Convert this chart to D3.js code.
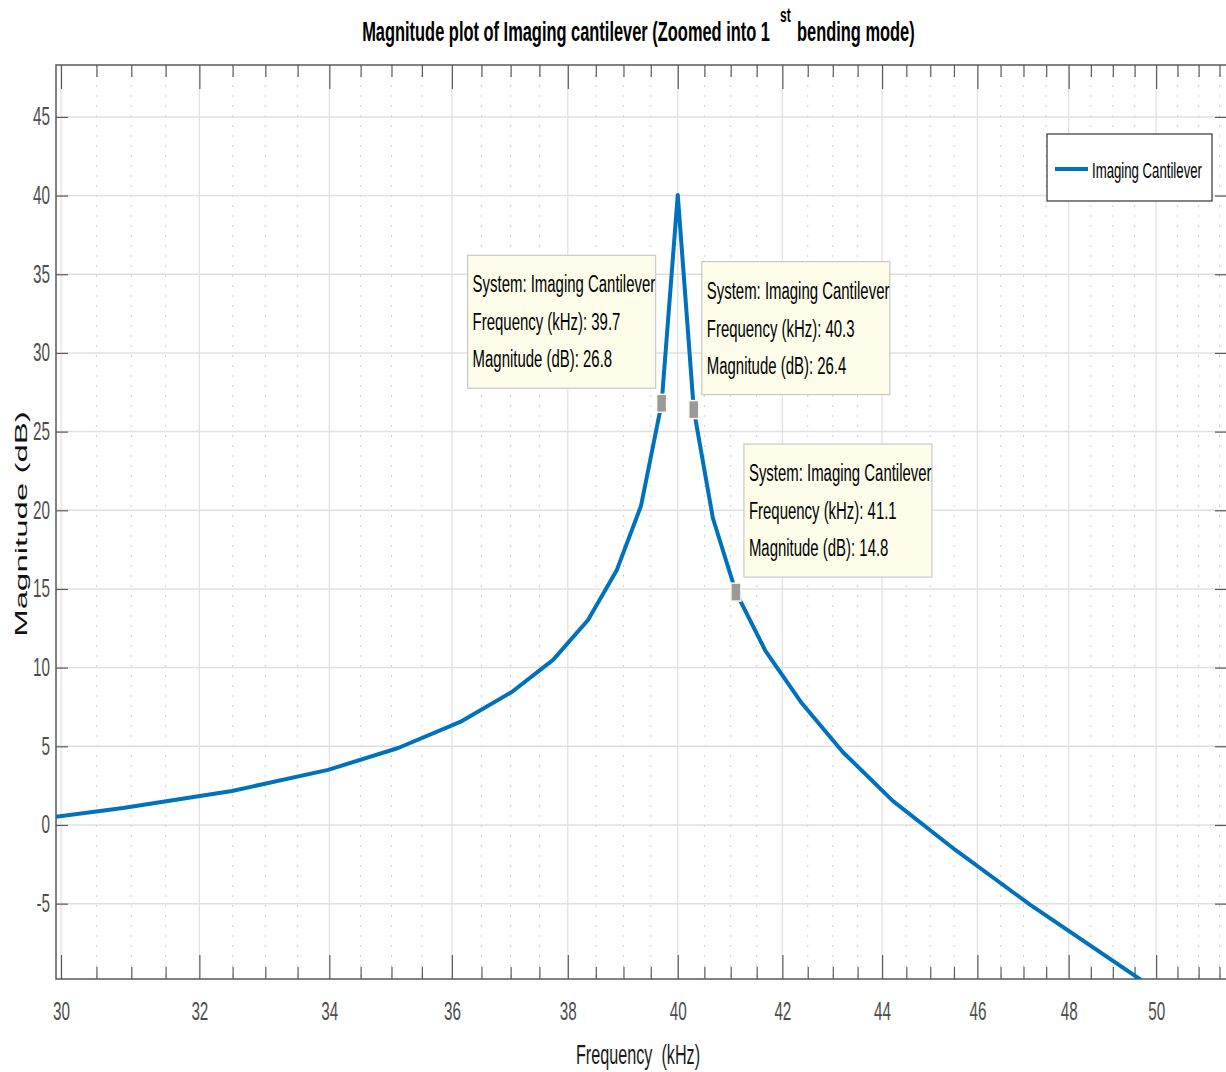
<!DOCTYPE html>
<html>
<head>
<meta charset="utf-8">
<script src="https://cdn.jsdelivr.net/npm/d3@7"></script>
<style>
  body { margin: 0; background: #ffffff; }
  svg { display: block; font-family: "Liberation Sans", Arial, Helvetica, sans-serif; }
</style>
</head>
<body>
<script>
// ---------- data ----------
const freqKHz = [29.9, 30.88, 32.49, 33.98, 35.11, 36.14, 37.02, 37.74, 38.36, 38.88, 39.32, 39.7, 40.0, 40.3, 40.66, 41.1, 41.67, 42.38, 43.2, 44.22, 45.53, 47.15, 49.65];
const magDB   = [0.5, 1.08, 2.16, 3.5, 4.89, 6.55, 8.45, 10.49, 13.03, 16.21, 20.28, 26.8, 40.04, 26.4, 19.51, 14.8, 11.06, 7.75, 4.64, 1.53, -1.59, -5.08, -9.85];

const tipFreq = [39.7, 40.3, 41.1];
const tipMag  = [26.8, 26.4, 14.8];
const tipSide = ["left", "right", "right"];

const xMajorTicks = [30, 32, 34, 36, 38, 40, 42, 44, 46, 48, 50];
const xMinorTicks = [30.5, 31, 31.5, 32.5, 33, 33.5, 34.5, 35, 35.5, 36.5, 37, 37.5, 38.5, 39, 39.5, 40.5, 41, 41.5, 42.5, 43, 43.5, 44.5, 45, 45.5, 46.5, 47, 47.5, 48.5, 49, 49.5, 50.5, 51, 51.5];
const yTicks = [-5, 0, 5, 10, 15, 20, 25, 30, 35, 40, 45];

const seriesName = "Imaging Cantilever";
const titleMain = "Magnitude plot of Imaging cantilever (Zoomed into 1";
const titleSup = "st";
const titleEnd = "bending mode)";
const xLabel = "Frequency  (kHz)";
const yLabel = "Magnitude (dB)";

// ---------- layout ----------
const W = 1226, H = 1072;
const L = 56, R = 1227, T = 65, B = 979;
const blue = "#0072BD";
const axisCol = "#5a5a5a";
const tickTextCol = "#4d4d4d";

const svg = d3.select("body").append("svg").attr("width", W).attr("height", H);

const x = d3.scaleLog().domain([29.93, 51.68]).range([L, R]);
const y = d3.scaleLinear().domain([-9.79, 48.3]).range([B, T]);

// clip
svg.append("defs").append("clipPath").attr("id", "plotclip")
  .append("rect").attr("x", L).attr("y", T).attr("width", R - L).attr("height", B - T);

// ---------- grid ----------
const grid = svg.append("g");
grid.selectAll(".gmin").data(xMinorTicks.filter(d => x(d) < R)).enter().append("line")
  .attr("x1", d => x(d)).attr("x2", d => x(d)).attr("y1", T).attr("y2", B)
  .attr("stroke", "#cfcfcf").attr("stroke-width", 1).attr("stroke-dasharray", "2,8");
grid.selectAll(".gmaj").data(xMajorTicks).enter().append("line")
  .attr("x1", d => x(d)).attr("x2", d => x(d)).attr("y1", T).attr("y2", B)
  .attr("stroke", "#e0e0e0").attr("stroke-width", 1.2);
grid.selectAll(".gy").data(yTicks).enter().append("line")
  .attr("x1", L).attr("x2", R).attr("y1", d => y(d)).attr("y2", d => y(d))
  .attr("stroke", "#e0e0e0").attr("stroke-width", 1.5);

// ---------- axes ----------
function styleAxis(g) {
  g.select(".domain").remove();
  g.selectAll("line").attr("stroke", axisCol).attr("stroke-width", 1.2);
}
const SXT = 0.61;

// bottom major
const gB = svg.append("g").attr("transform", `translate(0,${B})`)
  .call(d3.axisBottom(x).tickValues(xMajorTicks).tickSize(-24).tickPadding(23).tickFormat(d => String(d)));
styleAxis(gB);
gB.selectAll("text").attr("font-size", 25).attr("fill", tickTextCol)
  .attr("font-family", "Liberation Sans, Arial, sans-serif")
  .attr("transform", `scale(${SXT},1)`);
// bottom minor
const gBm = svg.append("g").attr("transform", `translate(0,${B})`)
  .call(d3.axisBottom(x).tickValues(xMinorTicks.filter(d => x(d) < R)).tickSize(-12).tickFormat(""));
styleAxis(gBm);
// top major/minor
const gT = svg.append("g").attr("transform", `translate(0,${T})`)
  .call(d3.axisTop(x).tickValues(xMajorTicks).tickSize(-24).tickFormat(""));
styleAxis(gT);
const gTm = svg.append("g").attr("transform", `translate(0,${T})`)
  .call(d3.axisTop(x).tickValues(xMinorTicks.filter(d => x(d) < R)).tickSize(-12).tickFormat(""));
styleAxis(gTm);
// left
const gL = svg.append("g").attr("transform", `translate(${L},0)`)
  .call(d3.axisLeft(y).tickValues(yTicks).tickSize(-12).tickPadding(6).tickFormat(d => String(d)));
styleAxis(gL);
gL.selectAll("text").attr("font-size", 25).attr("fill", tickTextCol)
  .attr("font-family", "Liberation Sans, Arial, sans-serif")
  .attr("x", -6 / SXT)
  .attr("transform", `scale(${SXT},1)`);
// right
const gR = svg.append("g").attr("transform", `translate(${R},0)`)
  .call(d3.axisRight(y).tickValues(yTicks).tickSize(-12).tickFormat(""));
styleAxis(gR);

// box
svg.append("rect").attr("x", L).attr("y", T).attr("width", R - L).attr("height", B - T)
  .attr("fill", "none").attr("stroke", axisCol).attr("stroke-width", 1.5);

// ---------- line ----------
const pts = freqKHz.map((f, i) => [f, magDB[i]]);
svg.append("path").datum(pts)
  .attr("clip-path", "url(#plotclip)")
  .attr("d", d3.line().x(d => x(d[0])).y(d => y(d[1])))
  .attr("fill", "none").attr("stroke", blue).attr("stroke-width", 4)
  .attr("stroke-linejoin", "round");

// ---------- helper for condensed text ----------
function ctext(parent, px, py, str, size, sx, opts = {}) {
  return parent.append("text")
    .attr("transform", `translate(${px},${py}) scale(${sx},1)`)
    .attr("font-size", size)
    .attr("font-weight", opts.weight || "normal")
    .attr("text-anchor", opts.anchor || "start")
    .attr("fill", opts.fill || "#000")
    .style("white-space", "pre")
    .text(str);
}

// ---------- data tips ----------
const tipW = 188, tipH = 133;
const tips = svg.append("g");
tipFreq.forEach((f, i) => {
  const px = x(f), py = y(tipMag[i]);
  const bx = tipSide[i] === "left" ? px - 6 - tipW : px + 8;
  const by = py - 15 - tipH;
  tips.append("rect").attr("x", bx).attr("y", by).attr("width", tipW).attr("height", tipH)
    .attr("fill", "#fdfdea").attr("stroke", "#c9c9c9").attr("stroke-width", 1.2);
  const lines = [
    "System: " + seriesName,
    "Frequency (kHz): " + f.toFixed(1),
    "Magnitude (dB): " + tipMag[i].toFixed(1)
  ];
  const offs = [37, 75, 112];
  lines.forEach((s, j) => ctext(tips, bx + 5, by + offs[j], s, 24.5, 0.61));
  tips.append("rect").attr("x", px - 5).attr("y", py - 9).attr("width", 10).attr("height", 18)
    .attr("fill", "#9a9a9a").attr("stroke", "#fbfbe6").attr("stroke-width", 1.5);
});

// ---------- legend ----------
const lg = svg.append("g");
lg.append("rect").attr("x", 1047).attr("y", 134).attr("width", 165).attr("height", 67)
  .attr("fill", "#fff").attr("stroke", "#333").attr("stroke-width", 1.2);
lg.append("line").attr("x1", 1055).attr("x2", 1088).attr("y1", 169).attr("y2", 169)
  .attr("stroke", blue).attr("stroke-width", 4);
ctext(lg, 1092, 178, seriesName, 22, 0.6);

// ---------- titles ----------
ctext(svg, 770, 41, titleMain, 28, 0.587, { weight: "bold", anchor: "end" });
ctext(svg, 780, 22, titleSup, 20, 0.6, { weight: "bold" });
ctext(svg, 797, 41, titleEnd, 28, 0.587, { weight: "bold" });

ctext(svg, 638, 1064, xLabel, 27, 0.6, { anchor: "middle", fill: "#1a1a1a" });

svg.append("text")
  .attr("transform", "translate(27,524) scale(0.5,1) rotate(-90)")
  .attr("text-anchor", "middle").attr("font-size", 33).attr("fill", "#111")
  .text(yLabel);
</script>
</body>
</html>
